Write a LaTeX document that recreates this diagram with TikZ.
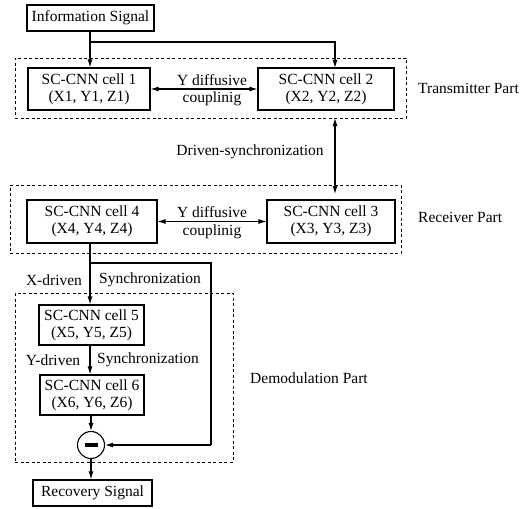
\documentclass[tikz,border=0pt]{standalone}
\usepackage{fontspec}
\setmainfont{Liberation Serif}
\usetikzlibrary{arrows.meta}
\begin{document}
\begin{tikzpicture}[x=1pt,y=-1pt,
  every node/.style={font=\fontsize{15.5}{17}\selectfont, inner sep=0pt},
  cell/.style={draw, line width=1.1pt, align=center},
  sigbox/.style={draw, line width=1.1pt},
  part/.style={draw, dashed, dash pattern=on 3pt off 2.5pt, line width=0.8pt},
  lbl/.style={},
  conn/.style={line width=1.1pt, -{Latex[length=8pt,width=5pt]}},
  dconn/.style={line width=1.1pt, {Latex[length=8pt,width=5pt]}-{Latex[length=8pt,width=5pt]}},
  line/.style={line width=1.1pt}
]
\useasboundingbox (0,0) rectangle (532,508);
% dashed parts
\node[part, minimum width=391pt, minimum height=60pt] (tx) at (210.5,88) {};
\node[part, minimum width=391pt, minimum height=68pt] (rx) at (205.5,219) {};
\node[part, minimum width=218pt, minimum height=169pt] (dm) at (124,377.5) {};
% boxes
\node[sigbox, minimum width=127pt, minimum height=26pt] (info) at (90.5,18) {Information Signal};
\node[cell, minimum width=122pt, minimum height=42pt] (c1) at (89,89) {SC-CNN cell 1\\(X1, Y1, Z1)};
\node[cell, minimum width=136pt, minimum height=42pt] (c2) at (326,89) {SC-CNN cell 2\\(X2, Y2, Z2)};
\node[cell, minimum width=128pt, minimum height=43pt] (c3) at (331,221.5) {SC-CNN cell 3\\(X3, Y3, Z3)};
\node[cell, minimum width=130pt, minimum height=43pt] (c4) at (92,221.5) {SC-CNN cell 4\\(X4, Y4, Z4)};
\node[cell, minimum width=105pt, minimum height=40pt] (c5) at (91.5,325) {SC-CNN cell 5\\(X5, Y5, Z5)};
\node[cell, minimum width=104pt, minimum height=40pt] (c6) at (92,395) {SC-CNN cell 6\\(X6, Y6, Z6)};
\node[draw, circle, line width=1.1pt, minimum size=27pt] (sub) at (91,445) {\rule[-2pt]{13pt}{4pt}};
\node[sigbox, minimum width=119pt, minimum height=26pt] (rec) at (92.5,493) {Recovery Signal};
% labels
\node[lbl] (l1a) at (212,80) {Y diffusive};
\node[lbl] (l1b) at (212,99) {couplinig};
\node[lbl] (l2a) at (212,212) {Y diffusive};
\node[lbl] (l2b) at (212,232) {couplinig};
\node[lbl, anchor=west] (ptx) at (418,88) {Transmitter Part};
\node[lbl, anchor=west] (prx) at (418,217) {Receiver Part};
\node[lbl, anchor=west] (pdm) at (250,378) {Demodulation Part};
\node[lbl] (ds) at (250,152) {Driven-synchronization};
\node[lbl] (xd) at (54,280) {X-driven};
\node[lbl] (xs) at (150,280) {Synchronization};
\node[lbl] (yd) at (53,360) {Y-driven};
\node[lbl] (ys) at (148,360) {Synchronization};
% coordinates
\coordinate (b1) at (90,42);
\coordinate (c2in) at (335,68);
\coordinate (txb) at (335,118);
\coordinate (rxt) at (335,194);
\coordinate (b2) at (90,263);
\coordinate (b2r) at (211,263);
\coordinate (b2d) at (211,445);
% connectors
\draw[conn] (info.south -| b1) -- (c1.north -| b1);
\draw[conn] (b1) -| (c2in);
\draw[dconn] (c1) -- (c2);
\draw[dconn] (txb) -- (rxt);
\draw[dconn] (c4) -- (c3);
\draw[conn] (c4.south -| b2) -- (c5.north -| b2);
\draw[line] (b2) -- (b2r) -- (b2d);
\draw[conn] (b2d) -- (sub.east);
\draw[conn] (c5.south -| b2) -- (c6.north -| b2);
\draw[conn] (c6.south -| sub) -- (sub.north);
\draw[conn] (sub.south) -- (rec.north -| sub);
\end{tikzpicture}
\end{document}
